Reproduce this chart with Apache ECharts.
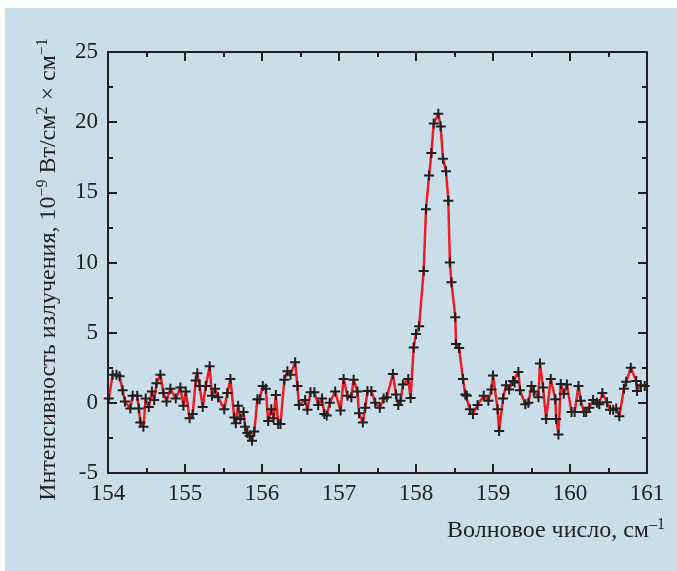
<!DOCTYPE html>
<html>
<head>
<meta charset="utf-8">
<script src="https://cdn.jsdelivr.net/npm/echarts@6/dist/echarts.min.js"></script>
<style>
  html, body { margin: 0; padding: 0; background: #ffffff; }
  #panel { position: absolute; left: 5px; top: 8px; width: 672px; height: 563px; background: #c9dee8; }
  #myChart { position: absolute; left: 0; top: 0; width: 677px; height: 571px; }
</style>
</head>
<body>
<div id="panel"></div>
<div id="myChart"></div>
<script>
// волновое число, см^-1
const waveNumbers = [
  154.01, 154.06, 154.11, 154.15, 154.19, 154.22, 154.29, 154.32, 154.38, 154.40,
  154.42, 154.46, 154.49, 154.53, 154.57, 154.60, 154.63, 154.68, 154.72, 154.76,
  154.81, 154.88, 154.94, 154.98, 155.01, 155.06, 155.10, 155.14, 155.16, 155.19,
  155.23, 155.27, 155.32, 155.35, 155.39, 155.43, 155.51, 155.55, 155.59, 155.64,
  155.66, 155.69, 155.72, 155.76, 155.78, 155.81, 155.84, 155.87, 155.90, 155.94,
  155.97, 156.01, 156.05, 156.08, 156.12, 156.15, 156.18, 156.21, 156.24, 156.29,
  156.33, 156.37, 156.43, 156.46, 156.48, 156.56, 156.59, 156.63, 156.68, 156.73,
  156.78, 156.81, 156.84, 156.88, 156.95, 157.02, 157.06, 157.11, 157.16, 157.19,
  157.24, 157.26, 157.31, 157.34, 157.37, 157.42, 157.47, 157.53, 157.58, 157.62,
  157.70, 157.74, 157.77, 157.80, 157.83, 157.90, 157.93, 157.97, 158.00, 158.04,
  158.10, 158.13, 158.17, 158.20, 158.23, 158.29, 158.32, 158.35, 158.39, 158.42,
  158.44, 158.46, 158.51, 158.52, 158.56, 158.61, 158.64, 158.66, 158.70, 158.74,
  158.80, 158.88, 158.94, 158.98, 159.00, 159.06, 159.08, 159.13, 159.17, 159.21,
  159.26, 159.28, 159.33, 159.35, 159.42, 159.46, 159.50, 159.53, 159.59, 159.61,
  159.65, 159.69, 159.75, 159.81, 159.82, 159.85, 159.88, 159.92, 159.96, 160.02,
  160.06, 160.11, 160.14, 160.18, 160.21, 160.25, 160.30, 160.35, 160.38, 160.42,
  160.48, 160.52, 160.56, 160.60, 160.64, 160.70, 160.73, 160.79, 160.86, 160.87,
  160.92, 160.97
];
// интенсивность, 10^-9 Вт/см2 х см^-1
const intensity = [
  0.3, 2.0, 2.0, 1.9, 0.9, 0.1, -0.4, 0.5, 0.5, -0.4,
  -1.4, -1.7, 0.3, -0.3, 0.8, 0.2, 1.4, 2.0, 0.7, 0.1,
  1.0, 0.3, 1.1, -0.2, 0.8, -1.1, -0.8, 1.6, 2.1, 1.2,
  -0.3, 1.2, 2.6, 0.5, 1.0, 0.4, -0.45, 0.7, 1.7, -1.05,
  -1.45, -0.2, -1.15, -0.65, -1.7, -2.15, -2.35, -2.7, -2.05, 0.25,
  0.25, 1.2, 1.0, -1.3, -0.45, -1.1, 0.55, -1.5, -1.5, 1.65,
  2.25, 2.0, 2.9, 1.2, -0.15, 0.2, -0.5, 0.75, 0.75, -0.15,
  0.3, -0.8, -0.9, 0.0, 0.8, -0.55, 1.7, 0.5, 0.4, 1.65,
  0.8, -0.75, -1.4, -0.35, 0.85, 0.85, 0.0, -0.35, 0.3, 0.4,
  2.05, 0.6, -0.15, 0.15, 1.3, 1.7, 0.35, 3.95, 4.9, 5.45,
  9.4, 13.8, 16.2, 17.8, 19.9, 20.6, 19.7, 17.4, 16.5, 14.4,
  10.0, 8.6, 6.1, 4.2, 3.9, 1.7, 0.6, 0.5, -0.45, -0.8,
  -0.15, 0.5, 0.15, 0.95, 1.95, -0.45, -2.0, 0.3, 1.25, 0.95,
  1.55, 1.45, 2.2, 0.9, -0.1, 0.0, 1.2, 0.8, 0.4, 2.8,
  1.1, -1.15, 1.7, 0.25, -1.15, -2.25, 1.35, 0.65, 1.3, -0.65,
  -0.65, 1.2, 0.15, -0.65, -0.65, -0.35, 0.2, 0.0, -0.1, 0.7,
  0.05, -0.5, -0.5, -0.4, -0.95, 1.0, 1.5, 2.5, 1.55, 0.85,
  1.25, 1.2
];
const xTicks = [154, 155, 156, 157, 158, 159, 160, 161];
const yTicks = [-5, 0, 5, 10, 15, 20, 25];

const ink = "#231f20";
const serif = "Liberation Serif";

let myChart = echarts.init(document.getElementById("myChart"));

// крестик-маркер
const plusMark = "path://M4,0H6V4H10V6H6V10H4V6H0V4H4Z";

function axisBase(extra) {
  return Object.assign({
    type: "value",
    axisLine: { show: true, onZero: false, lineStyle: { color: ink, width: 2 } },
    axisTick: { show: true, inside: true, length: 9, lineStyle: { color: ink, width: 2 } },
    minorTick: { show: true, splitNumber: 2, length: 5, lineStyle: { color: ink, width: 2 } },
    splitLine: { show: false },
    axisLabel: { show: false },
  }, extra);
}

const tickLabel = {
  show: true,
  color: ink,
  fontFamily: serif,
  fontSize: 23,
};

const nameRich = {
  a: { fontFamily: serif, fontSize: 24, color: ink, lineHeight: 27 },
  s: { fontFamily: serif, fontSize: 16, color: ink, lineHeight: 16, verticalAlign: "top" },
};

myChart.setOption({
  backgroundColor: "transparent",
  animation: false,
  grid: { left: 108, right: 30, top: 52, bottom: 98 },
  xAxis: [
    axisBase({
      position: "bottom",
      min: xTicks[0],
      max: xTicks[xTicks.length - 1],
      interval: 1,
      axisLabel: Object.assign({ margin: 9 }, tickLabel),
      name: "{a|Волновое число, см}{s|–1}",
      nameLocation: "end",
      nameGap: 18,
      nameTextStyle: {
        align: "right",
        verticalAlign: "top",
        padding: [44, 0, 0, 0],
        rich: nameRich,
      },
    }),
    axisBase({
      position: "top",
      min: xTicks[0],
      max: xTicks[xTicks.length - 1],
      interval: 1,
    }),
  ],
  yAxis: [
    axisBase({
      position: "left",
      min: yTicks[0],
      max: yTicks[yTicks.length - 1],
      interval: 5,
      axisLabel: Object.assign({ margin: 10 }, tickLabel),
      name: "{a|Интенсивность излучения, 10}{s|−9}{a| Вт/см}{s|2}{a| × см}{s|−1}",
      nameLocation: "middle",
      nameRotate: 90,
      nameGap: 46,
      nameTextStyle: {
        padding: [0, 14, 0, 0],
        rich: nameRich,
      },
    }),
    axisBase({
      position: "right",
      min: yTicks[0],
      max: yTicks[yTicks.length - 1],
      interval: 5,
    }),
  ],
  series: [
    {
      name: "спектр",
      type: "line",
      data: waveNumbers.map((w, i) => [w, intensity[i]]),
      showAllSymbol: true,
      symbol: plusMark,
      symbolSize: 10,
      itemStyle: { color: ink },
      lineStyle: { color: "#ee1c25", width: 2.5 },
      z: 3,
    },
  ],
});
</script>
</body>
</html>
